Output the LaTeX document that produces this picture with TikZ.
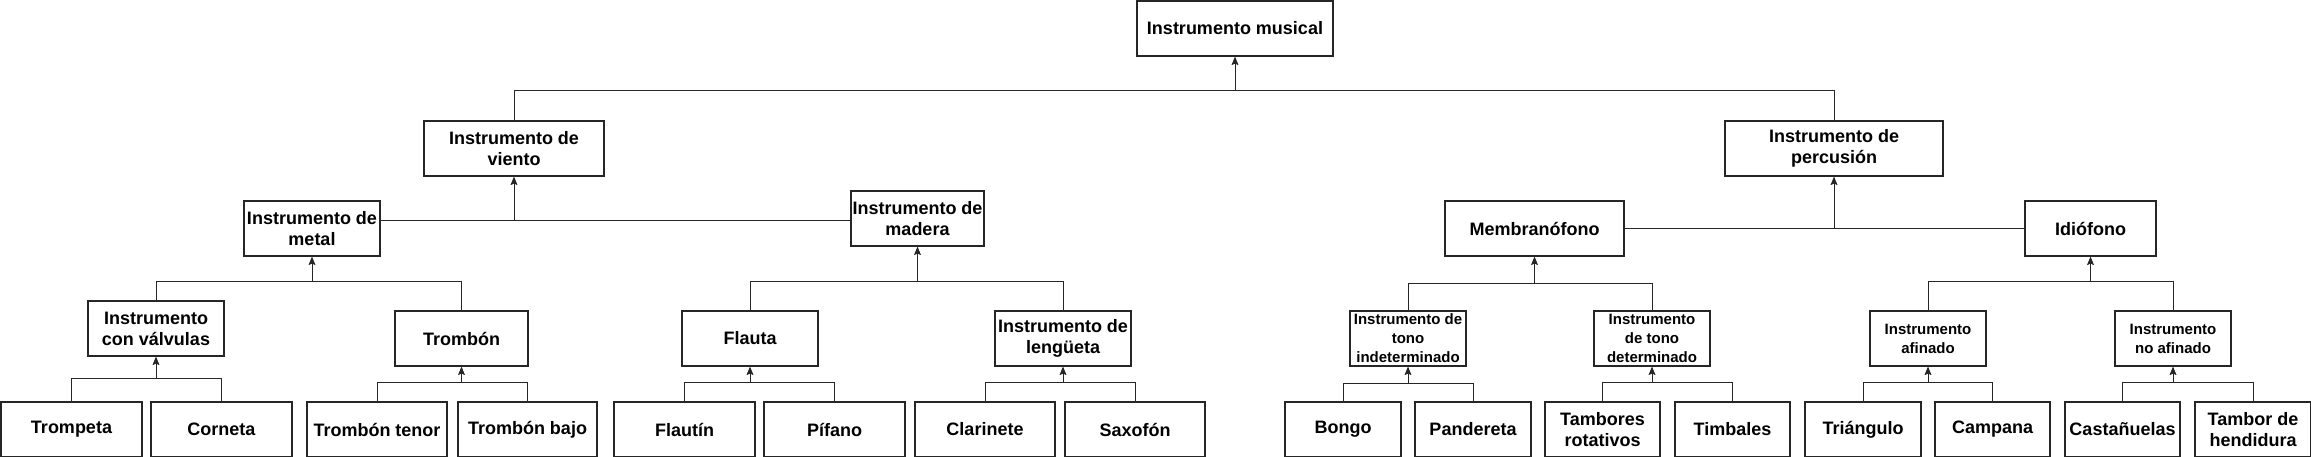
\documentclass[tikz,border=0pt]{standalone}
\usepackage{fontspec}
\setmainfont{Liberation Sans}
\usetikzlibrary{arrows.meta}
\begin{document}
\begin{tikzpicture}[x=1pt,y=-1pt,
  box/.style={draw=black!85, line width=1.8pt, fill=white, rectangle, align=center, inner sep=1pt,
    font=\fontsize{18}{21}\selectfont\bfseries, minimum height=55pt},
  smallbox/.style={box, font=\fontsize{15}{19}\selectfont\bfseries},
  conn/.style={draw=black!85, line width=1pt},
  arr/.style={conn, -{Stealth[length=8pt,width=6.5pt,inset=1.5pt]}}
]
\useasboundingbox (0,0) rectangle (2311,457);
% level 0
\node[box, minimum width=196pt] (root) at (1235,28.5) {Instrumento musical};
% level 1
\node[box, minimum width=180pt] (viento) at (514,148.5) {Instrumento de\\viento};
\node[box, minimum width=218pt] (percusion) at (1834,148.5) {Instrumento de\\percusión};
% level 2
\node[box, minimum width=136pt] (metal) at (312,228.5) {Instrumento de\\metal};
\node[box, minimum width=133pt] (madera) at (917.5,218.5) {Instrumento de\\madera};
\node[box, minimum width=179pt] (membrano) at (1534.5,228.5) {Membranófono};
\node[box, minimum width=131pt] (idiofono) at (2090.5,228.5) {Idiófono};
% level 3
\node[box, minimum width=136pt] (valvulas) at (156,328.5) {Instrumento\\con válvulas};
\node[box, minimum width=133pt] (trombon) at (461.5,338.5) {Trombón};
\node[box, minimum width=136pt] (flauta) at (750,338.5) {Flauta};
\node[box, minimum width=136pt] (lengueta) at (1063,338.5) {Instrumento de\\lengüeta};
\node[smallbox, minimum width=116pt] (indet) at (1408,338.5) {Instrumento de\\tono\\indeterminado};
\node[smallbox, minimum width=116pt] (det) at (1652,338.5) {Instrumento\\de tono\\determinado};
\node[smallbox, minimum width=116pt] (afinado) at (1928,338.5) {Instrumento\\afinado};
\node[smallbox, minimum width=116pt] (noafinado) at (2173,338.5) {Instrumento\\no afinado};
% level 4
\node[box, minimum width=141pt] (trompeta) at (71.5,429.5) {Trompeta};
\node[box, minimum width=141pt] (corneta) at (221.5,429.5) {Corneta};
\node[box, minimum width=140pt] (tenor) at (377,429.5) {Trombón tenor};
\node[box, minimum width=139pt] (bajo) at (527.5,429.5) {Trombón bajo};
\node[box, minimum width=141pt] (flautin) at (684.5,429.5) {Flautín};
\node[box, minimum width=141pt] (pifano) at (834.5,429.5) {Pífano};
\node[box, minimum width=140pt] (clarinete) at (985,429.5) {Clarinete};
\node[box, minimum width=140pt] (saxofon) at (1135,429.5) {Saxofón};
\node[box, minimum width=116pt] (bongo) at (1343,429.5) {Bongo};
\node[box, minimum width=116pt] (pandereta) at (1473,429.5) {Pandereta};
\node[box, minimum width=115pt] (tambores) at (1602.5,429.5) {Tambores\\rotativos};
\node[box, minimum width=115pt] (timbales) at (1732.5,429.5) {Timbales};
\node[box, minimum width=116pt] (triangulo) at (1863,429.5) {Triángulo};
\node[box, minimum width=115pt] (campana) at (1992.5,429.5) {Campana};
\node[box, minimum width=115pt] (castanuelas) at (2122.5,429.5) {Castañuelas};
\node[box, minimum width=116pt] (hendidura) at (2253,429.5) {Tambor de\\hendidura};
% connectors level 1 -> 0
\draw[arr] (viento.north) -- (viento.north |- 0,91) -| (root.south);
\draw[arr] (percusion.north) -- (percusion.north |- 0,91) -| (root.south);
% level 2 -> 1
\draw[arr] ([yshift=7.5pt]metal.east) -| (viento.south);
\draw[arr] ([yshift=-2.5pt]madera.west) -| (viento.south);
\draw[arr] (membrano.east) -| (percusion.south);
\draw[arr] (idiofono.west) -| (percusion.south);
% level 3 -> 2
\draw[arr] (valvulas.north) -- (valvulas.north |- 0,281) -| (metal.south);
\draw[arr] (trombon.north) -- (trombon.north |- 0,281) -| (metal.south);
\draw[arr] (flauta.north) -- (flauta.north |- 0,281) -| (madera.south);
\draw[arr] (lengueta.north) -- (lengueta.north |- 0,281) -| (madera.south);
\draw[arr] (indet.north) -- (indet.north |- 0,283) -| (membrano.south);
\draw[arr] (det.north) -- (det.north |- 0,283) -| (membrano.south);
\draw[arr] (afinado.north) -- (afinado.north |- 0,281) -| (idiofono.south);
\draw[arr] (noafinado.north) -- (noafinado.north |- 0,281) -| (idiofono.south);
% level 4 -> 3
\draw[arr] (trompeta.north) -- (trompeta.north |- 0,378) -| (valvulas.south);
\draw[arr] (corneta.north) -- (corneta.north |- 0,378) -| (valvulas.south);
\draw[arr] (tenor.north) -- (tenor.north |- 0,382) -| (trombon.south);
\draw[arr] (bajo.north) -- (bajo.north |- 0,382) -| (trombon.south);
\draw[arr] (flautin.north) -- (flautin.north |- 0,382) -| (flauta.south);
\draw[arr] (pifano.north) -- (pifano.north |- 0,382) -| (flauta.south);
\draw[arr] (clarinete.north) -- (clarinete.north |- 0,382) -| (lengueta.south);
\draw[arr] (saxofon.north) -- (saxofon.north |- 0,382) -| (lengueta.south);
\draw[arr] (bongo.north) -- (bongo.north |- 0,383) -| (indet.south);
\draw[arr] (pandereta.north) -- (pandereta.north |- 0,383) -| (indet.south);
\draw[arr] (tambores.north) -- (tambores.north |- 0,382) -| (det.south);
\draw[arr] (timbales.north) -- (timbales.north |- 0,382) -| (det.south);
\draw[arr] (triangulo.north) -- (triangulo.north |- 0,382) -| (afinado.south);
\draw[arr] (campana.north) -- (campana.north |- 0,382) -| (afinado.south);
\draw[arr] (castanuelas.north) -- (castanuelas.north |- 0,382) -| (noafinado.south);
\draw[arr] (hendidura.north) -- (hendidura.north |- 0,382) -| (noafinado.south);
\end{tikzpicture}
\end{document}
